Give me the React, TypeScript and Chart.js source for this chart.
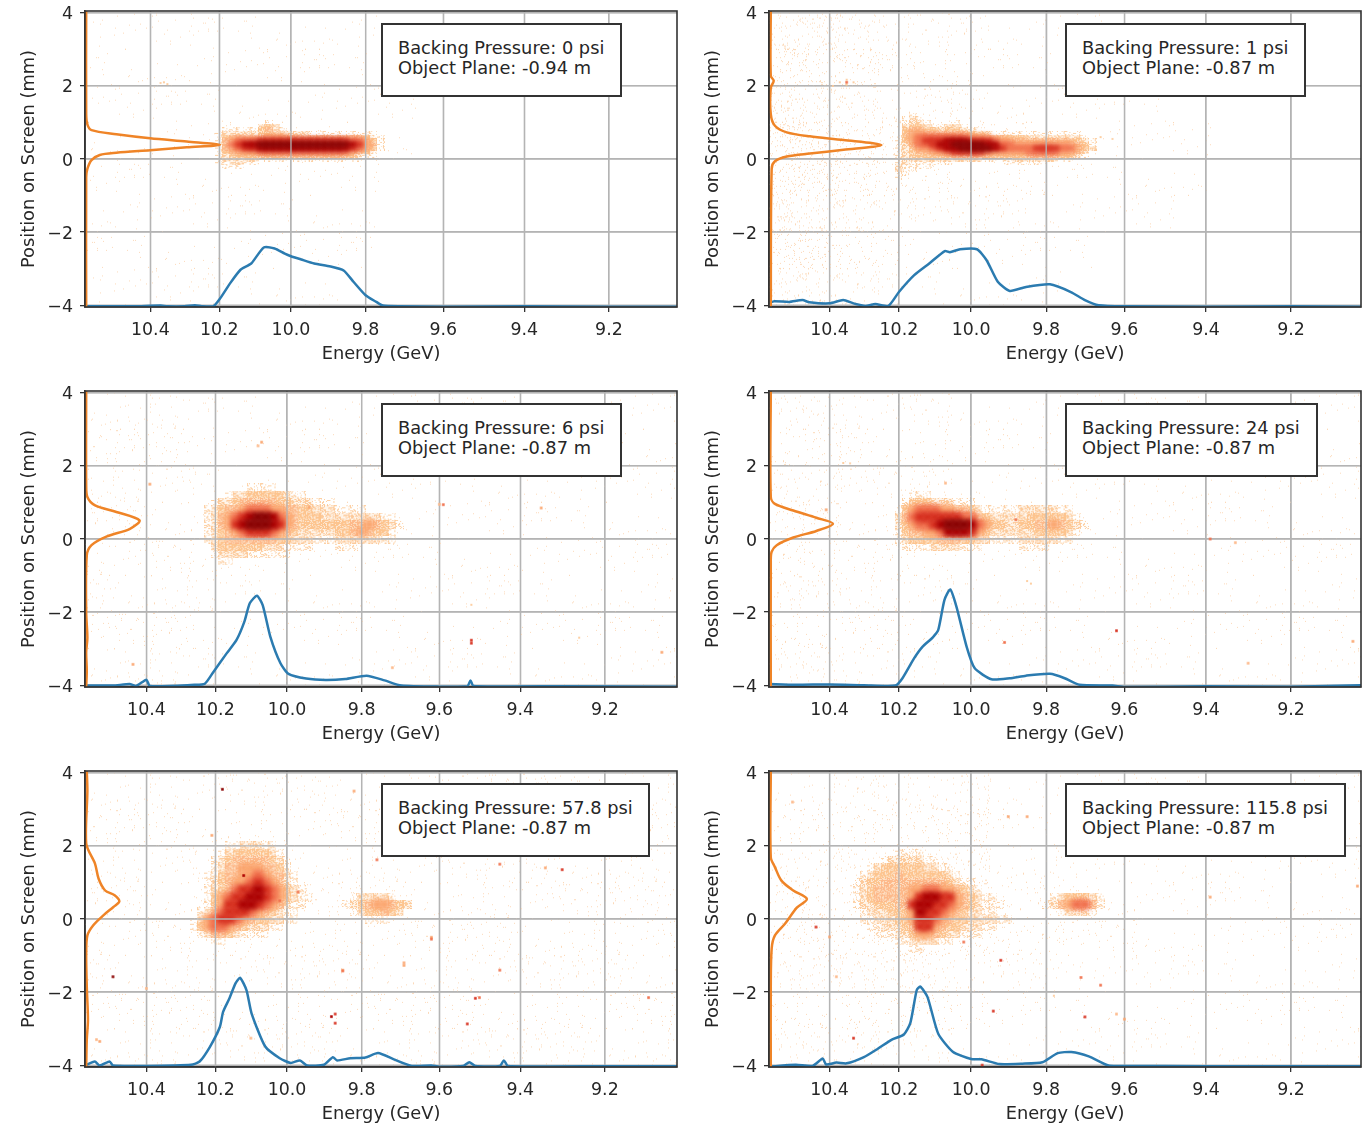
import React, { useEffect, useRef } from "react";
import { Chart, registerables, LinearScale } from "chart.js";

Chart.register(...registerables);

class InverseEnergyScale extends LinearScale {
  static id = "inverseEnergy";
  static defaults = LinearScale.defaults;
  getPixelForValue(v: number) {
    const a = 1 / this.max;
    const b = 1 / this.min;
    return this.left + (this.width * (1 / v - a)) / (b - a);
  }
  getValueForPixel(p: number) {
    const a = 1 / this.max;
    const b = 1 / this.min;
    return 1 / (a + ((p - this.left) / this.width) * (b - a));
  }
}
Chart.register(InverseEnergyScale as any);

const LEVEL_COLORS = ["", "#fdd0a4", "#fdca9a", "#fdc48e", "#fdb98a", "#fba66f", "#f1704c", "#d7301f", "#ad0000", "#8a0000"];
const LEVEL_DENSITY = [0, 0.2, 0.42, 0.68, 0.6];
const LEVEL_WASH = ["", "", "#fff5ea", "#fee9d4", "#fedfc2"];
const NOISE_COLOR = "#fcd9b8";
const NOISE_DENSITY_UNIT = 0.007;
const X_TICK_STEP = 0.2;
const Y_TICK_STEP = 2;

// ---------- Panel 1 ----------
const P1_LABEL = ["Backing Pressure: 0 psi", "Object Plane: -0.94 m"];
const P1_X_RANGE = [9.045, 10.597];
const P1_BLUE_E = [10.597, 10.45, 10.37, 10.35, 10.3, 10.27, 10.25, 10.217, 10.198, 10.17, 10.14, 10.11, 10.075, 10.045, 10.017, 10.0, 9.972, 9.937, 9.893, 9.858, 9.832, 9.8, 9.772, 9.755, 9.71, 9.6, 9.4, 9.2, 9.045];
const P1_BLUE_Y = [-4.03, -4.03, -4.01, -4.03, -4.03, -4.0, -4.03, -4.03, -3.82, -3.41, -3.03, -2.86, -2.42, -2.45, -2.59, -2.66, -2.75, -2.86, -2.94, -3.05, -3.36, -3.73, -3.91, -4.01, -4.03, -4.04, -4.03, -4.04, -4.04];
const P1_ORANGE_I = [0.002, 0.002, 0.004, 0.011, 0.053, 0.11, 0.172, 0.228, 0.172, 0.11, 0.053, 0.025, 0.011, 0.004, 0.002, 0.002];
const P1_ORANGE_Y = [4.05, 1.23, 0.95, 0.79, 0.68, 0.57, 0.48, 0.39, 0.32, 0.24, 0.17, 0.11, -0.03, -0.27, -0.5, -4.05];
const P1_HEAT_E0 = 10.22;
const P1_HEAT_Y0 = 1.0;
const P1_HEAT_YSTEP = 0.1;
const P1_HEAT = [
  "0000000010000000000000000",
  "0000000232000000000000000",
  "0011111342100000000000000",
  "0122222332222211111111100",
  "0134444455544444444443110",
  "0145666777777777777665310",
  "0146788999999999999875410",
  "0145677888888888888765310",
  "0134555666666666666543100",
  "0123333333333333333321100",
  "0122222111111111111110000",
  "0112211000000000000000000",
  "0011100000000000000000000",
];
const P1_SPOTS = [[10.36, 2.1, 3], [10.35, 2.05, 3], [10.37, 2.08, 2]];
const P1_NOISE = ["1111111100000000", "1111111100000000", "1111111110000000", "1111111110000000", "1111111100000000", "1111111100000000", "1111111100000000", "1111111000000000"];

// ---------- Panel 2 ----------
const P2_LABEL = ["Backing Pressure: 1 psi", "Object Plane: -0.87 m"];
const P2_X_RANGE = [9.042, 10.581];
const P2_BLUE_E = [10.581, 10.565, 10.52, 10.48, 10.46, 10.4, 10.36, 10.33, 10.296, 10.267, 10.23, 10.2, 10.157, 10.115, 10.072, 10.058, 10.03, 9.984, 9.958, 9.928, 9.896, 9.853, 9.79, 9.736, 9.7, 9.665, 9.6, 9.4, 9.2, 9.042];
const P2_BLUE_Y = [-3.94, -3.89, -3.91, -3.86, -3.92, -3.95, -3.86, -3.95, -4.02, -3.97, -4.02, -3.64, -3.18, -2.86, -2.52, -2.55, -2.47, -2.47, -2.77, -3.36, -3.61, -3.5, -3.43, -3.64, -3.86, -4.0, -4.03, -4.04, -4.03, -4.04];
const P2_ORANGE_I = [0.003, 0.003, 0.008, 0.003, 0.003, 0.01, 0.03, 0.069, 0.126, 0.19, 0.126, 0.069, 0.03, 0.01, 0.0045, 0.003];
const P2_ORANGE_Y = [4.05, 2.27, 2.14, 1.95, 1.23, 0.91, 0.73, 0.62, 0.52, 0.38, 0.25, 0.15, 0.07, -0.06, -0.27, -4.05];
const P2_HEAT_E0 = 10.22;
const P2_HEAT_Y0 = 1.2;
const P2_HEAT_YSTEP = 0.1;
const P2_HEAT = [
  "00010000000000000000000000000",
  "00121000000000000000000000000",
  "00122100010000000000000000000",
  "00233211221000000000000000000",
  "00344332332110000000000000000",
  "00355444444322111111111111000",
  "01356666666555443332222222100",
  "01356777888777655444444443210",
  "01246678899998866555555554310",
  "01235567889999876666777665320",
  "01234455677776555556666554200",
  "01233333344443333334444332100",
  "01222222222221111222222110000",
  "01211111100000001111100000000",
  "02111100000000000000000000000",
  "02110000000000000000000000000",
  "01100000000000000000000000000",
  "01000000000000000000000000000",
];
const P2_SPOTS = [[10.35, 2.1, 6], [10.37, 2.1, 3], [10.33, 2.1, 3], [10.35, 2.17, 3], [10.35, 2.03, 3], [10.39, 2.0, 2], [9.66, 0.6, 3], [9.63, 0.55, 2]];
const P2_NOISE = ["8753221110000000", "9753221111000000", "9853322111100000", "9865432111110000", "9854322211110000", "9853222111100000", "9742211110000000", "8531111100000000"];

// ---------- Panel 3 ----------
const P3_LABEL = ["Backing Pressure: 6 psi", "Object Plane: -0.87 m"];
const P3_X_RANGE = [9.036, 10.585];
const P3_BLUE_E = [10.585, 10.5, 10.45, 10.43, 10.4, 10.39, 10.26, 10.23, 10.205, 10.168, 10.14, 10.118, 10.103, 10.083, 10.067, 10.046, 10.018, 9.996, 9.948, 9.895, 9.843, 9.787, 9.74, 9.697, 9.6, 9.53, 9.522, 9.515, 9.3, 9.036];
const P3_BLUE_Y = [-4.01, -4.01, -3.97, -4.02, -3.85, -4.02, -3.99, -3.96, -3.63, -3.13, -2.76, -2.26, -1.76, -1.55, -1.81, -2.67, -3.4, -3.69, -3.82, -3.86, -3.83, -3.74, -3.87, -4.01, -4.04, -4.03, -3.87, -4.02, -4.03, -4.04];
const P3_ORANGE_I = [0.002, 0.002, 0.004, 0.017, 0.053, 0.092, 0.076, 0.037, 0.011, 0.003, 0.002, 0.004, 0.002, 0.003, 0.002];
const P3_ORANGE_Y = [4.05, 1.5, 1.15, 0.92, 0.74, 0.51, 0.28, 0.07, -0.17, -0.45, -2.0, -2.7, -3.1, -3.6, -4.05];
const P3_HEAT_E0 = 10.26;
const P3_HEAT_Y0 = 1.4;
const P3_HEAT_YSTEP = 0.2;
const P3_HEAT = [
  "0000000011110000000000000000000",
  "0000012233333211000000000000000",
  "0001223444443322211100000000000",
  "0012344566655443322211110000000",
  "0012456789986543332222222211000",
  "0012457899987543333333445432100",
  "0012345677765432222233454331000",
  "0012344444443322211122222211000",
  "0002333333222111100011100000000",
  "0001222211111100000000000000000",
  "0000110000000000000000000000000",
];
const P3_SPOTS = [[10.07, 2.65, 5], [10.08, 2.55, 4], [9.52, -2.77, 7], [9.52, -2.85, 7], [9.35, 0.85, 5], [9.6, 0.95, 4], [9.07, -3.1, 5], [9.26, -2.7, 3], [9.52, -1.8, 3], [10.39, 1.5, 5], [10.44, -3.43, 5], [9.94, 0.87, 5], [9.72, -3.52, 4], [9.59, 0.94, 6]];
const P3_NOISE = ["2221111111111111", "2221111111111111", "2221111111111111", "2221111111111111", "2221111111111111", "2222111111111111", "2221111111111111", "2221111111111111"];

// ---------- Panel 4 ----------
const P4_LABEL = ["Backing Pressure: 24 psi", "Object Plane: -0.87 m"];
const P4_X_RANGE = [9.042, 10.581];
const P4_BLUE_E = [10.581, 10.5, 10.4, 10.3, 10.21, 10.19, 10.157, 10.134, 10.105, 10.09, 10.073, 10.057, 10.04, 10.012, 9.99, 9.945, 9.896, 9.853, 9.79, 9.752, 9.714, 9.63, 9.6, 9.4, 9.2, 9.042];
const P4_BLUE_Y = [-3.97, -3.99, -3.98, -4.0, -4.01, -3.81, -3.26, -2.95, -2.69, -2.49, -1.67, -1.38, -1.85, -2.95, -3.54, -3.84, -3.81, -3.74, -3.69, -3.81, -3.99, -4.01, -4.05, -4.03, -4.04, -4.0];
const P4_ORANGE_I = [0.003, 0.003, 0.01, 0.041, 0.08, 0.108, 0.08, 0.041, 0.013, 0.0045, 0.003, 0.003];
const P4_ORANGE_Y = [4.05, 1.15, 0.96, 0.78, 0.58, 0.42, 0.22, 0.04, -0.17, -0.35, -0.58, -4.05];
const P4_HEAT_E0 = 10.22;
const P4_HEAT_Y0 = 1.2;
const P4_HEAT_YSTEP = 0.2;
const P4_HEAT = [
  "0001110000000000000000000000",
  "0013332221110000000000000000",
  "0135666554432111112222211000",
  "0246777777664322222333332100",
  "0235667899986533223344543210",
  "0134455688875322222233332100",
  "0123333444332211112222211000",
  "0011112222111000001111000000",
];
const P4_SPOTS = [[10.41, 0.8, 5], [10.07, 1.53, 4], [9.88, 0.53, 6], [9.84, -1.22, 3], [9.91, -2.83, 6], [9.62, -2.51, 7], [10.36, 2.08, 3], [10.34, 2.07, 2], [9.06, -2.8, 5], [9.39, 0, 6], [9.33, -0.1, 4], [9.3, -3.4, 4], [9.85, -1.15, 3]];
const P4_NOISE = ["3322211111111111", "3322211111111111", "3322211111111111", "3322211111111111", "3322111111111111", "3322211111111111", "3322211111111111", "3322111111111111"];

// ---------- Panel 5 ----------
const P5_LABEL = ["Backing Pressure: 57.8 psi", "Object Plane: -0.87 m"];
const P5_X_RANGE = [9.036, 10.585];
const P5_BLUE_E = [10.585, 10.555, 10.54, 10.51, 10.5, 10.4, 10.27, 10.245, 10.215, 10.187, 10.178, 10.16, 10.143, 10.13, 10.112, 10.098, 10.06, 10.02, 9.99, 9.965, 9.945, 9.9, 9.876, 9.865, 9.83, 9.79, 9.757, 9.716, 9.67, 9.62, 9.6, 9.54, 9.525, 9.51, 9.45, 9.44, 9.43, 9.2, 9.036];
const P5_BLUE_Y = [-4.01, -3.9, -4.01, -3.9, -4.01, -4.02, -3.99, -3.9, -3.49, -2.95, -2.54, -2.17, -1.76, -1.61, -1.95, -2.58, -3.49, -3.81, -3.94, -3.87, -4.01, -3.99, -3.78, -3.87, -3.81, -3.79, -3.67, -3.84, -4.02, -4.01, -4.04, -4.02, -3.92, -4.02, -4.02, -3.87, -4.02, -4.03, -4.03];
const P5_ORANGE_I = [0.003, 0.004, 0.002, 0.017, 0.023, 0.034, 0.05, 0.058, 0.048, 0.031, 0.014, 0.004, 0.002, 0.003, 0.005, 0.003, 0.002];
const P5_ORANGE_Y = [4.05, 3.5, 2.07, 1.51, 1.1, 0.78, 0.65, 0.48, 0.33, 0.1, -0.17, -0.45, -0.95, -1.85, -2.76, -3.3, -4.05];
const P5_HEAT_E0 = 10.28;
const P5_HEAT_Y0 = 2.0;
const P5_HEAT_YSTEP = 0.2;
const P5_HEAT = [
  "00000011222110000000000000000000",
  "00000123333321000000000000000000",
  "00001234444432100000000000000000",
  "00001244555443100000000000000000",
  "00011344556544210000000000000000",
  "00012345567654210000000000000000",
  "00012346778765321000000000000000",
  "00013567788765321100000122221000",
  "00013577887654211000001234554320",
  "00124677765432110000000123343200",
  "00256776543322110000000001110000",
  "01356654322211000000000000000000",
  "00124432111100000000000000000000",
  "00001100000000000000000000000000",
];
const P5_SPOTS = [[10.5, -1.58, 9], [9.87, -2.6, 7], [9.3, 1.35, 7], [9.45, 1.5, 6], [9.45, -1.4, 6], [9.62, -0.5, 5], [9.69, -1.2, 5], [9.82, 3.5, 5], [10.18, 3.55, 9], [9.1, -2.15, 6], [9.5, -2.15, 6], [9.85, -1.4, 5], [10.54, -3.35, 5], [9.34, 1.4, 5], [9.97, 0.74, 6], [10.02, 0.5, 6], [9.62, -0.55, 6], [9.69, -1.27, 5], [9.85, -1.42, 6], [9.88, -2.67, 8], [9.87, -2.85, 7], [9.53, -2.87, 7], [10.1, -3.26, 4], [10.55, -3.3, 4], [9.51, -2.17, 7], [10.12, 1.19, 8], [9.76, 1.62, 6], [10.21, 2.29, 5], [10.4, -1.9, 4]];
const P5_NOISE = ["2222222222222222", "2222222222222222", "2223222222222222", "2223222222222222", "2222222222222222", "2222222222222222", "2222222222222222", "2222222222222222"];

// ---------- Panel 6 ----------
const P6_LABEL = ["Backing Pressure: 115.8 psi", "Object Plane: -0.87 m"];
const P6_X_RANGE = [9.042, 10.581];
const P6_BLUE_E = [10.581, 10.5, 10.45, 10.42, 10.41, 10.38, 10.35, 10.3, 10.26, 10.22, 10.186, 10.168, 10.15, 10.14, 10.12, 10.09, 10.05, 10.0, 9.972, 9.924, 9.863, 9.81, 9.77, 9.735, 9.69, 9.64, 9.6, 9.4, 9.2, 9.042];
const P6_BLUE_Y = [-4.04, -3.99, -4.02, -3.82, -3.98, -3.93, -3.95, -3.78, -3.55, -3.3, -3.16, -2.85, -1.95, -1.85, -2.13, -3.14, -3.63, -3.83, -3.84, -3.97, -3.96, -3.92, -3.67, -3.64, -3.76, -4.01, -4.02, -4.03, -4.03, -4.03];
const P6_ORANGE_I = [0.003, 0.003, 0.01, 0.021, 0.041, 0.064, 0.047, 0.027, 0.01, 0.0045, 0.003, 0.003];
const P6_ORANGE_Y = [4.05, 1.69, 1.42, 1.05, 0.78, 0.55, 0.31, -0.13, -0.45, -0.81, -1.85, -4.05];
const P6_HEAT_E0 = 10.34;
const P6_HEAT_Y0 = 1.8;
const P6_HEAT_YSTEP = 0.2;
const P6_HEAT = [
  "000000011110000000000000000000000000",
  "000001222221100000000000000000000000",
  "000123333332211000000000000000000000",
  "001233343333332100000000000000000000",
  "012334444444443211000000000000000000",
  "012344444556655432100000000000000000",
  "012344444578877543211000000012333210",
  "012233344788776543211100000124566410",
  "001222333587765432211000000001222100",
  "001122233577654332222110000000000000",
  "000112223477543322211000000000000000",
  "000011122355432211100000000000000000",
  "000000011222211000000000000000000000",
  "000000000110000000000000000000000000",
];
const P6_SPOTS = [[10.44, -0.22, 7], [10.4, -0.49, 5], [10.02, -0.63, 6], [9.92, -1.13, 7], [9.71, -1.6, 6], [9.66, -1.81, 6], [9.94, -2.52, 7], [9.7, -2.68, 7], [9.6, -2.74, 5], [9.62, -2.6, 4], [10.33, -3.26, 7], [10.38, -1.58, 4], [9.97, -4.0, 7], [9.78, -2.1, 3], [9.9, 2.8, 5], [9.85, 2.8, 5], [10.51, 3.2, 4], [9.05, 0.9, 5], [9.39, 0.6, 5]];
const P6_NOISE = ["2233331111111111", "2233441111111111", "3344552211111111", "3445553222111111", "3445553322111111", "3444432211111111", "3343321111111111", "3332211111111111"];

const PANELS = [
  { col: 0, row: 0, label: P1_LABEL, boxW: 241, range: P1_X_RANGE, blueE: P1_BLUE_E, blueY: P1_BLUE_Y, orangeI: P1_ORANGE_I, orangeY: P1_ORANGE_Y, heat: P1_HEAT, e0: P1_HEAT_E0, y0: P1_HEAT_Y0, yStep: P1_HEAT_YSTEP, spots: P1_SPOTS, noise: P1_NOISE },
  { col: 1, row: 0, label: P2_LABEL, boxW: 241, range: P2_X_RANGE, blueE: P2_BLUE_E, blueY: P2_BLUE_Y, orangeI: P2_ORANGE_I, orangeY: P2_ORANGE_Y, heat: P2_HEAT, e0: P2_HEAT_E0, y0: P2_HEAT_Y0, yStep: P2_HEAT_YSTEP, spots: P2_SPOTS, noise: P2_NOISE },
  { col: 0, row: 1, label: P3_LABEL, boxW: 241, range: P3_X_RANGE, blueE: P3_BLUE_E, blueY: P3_BLUE_Y, orangeI: P3_ORANGE_I, orangeY: P3_ORANGE_Y, heat: P3_HEAT, e0: P3_HEAT_E0, y0: P3_HEAT_Y0, yStep: P3_HEAT_YSTEP, spots: P3_SPOTS, noise: P3_NOISE },
  { col: 1, row: 1, label: P4_LABEL, boxW: 253, range: P4_X_RANGE, blueE: P4_BLUE_E, blueY: P4_BLUE_Y, orangeI: P4_ORANGE_I, orangeY: P4_ORANGE_Y, heat: P4_HEAT, e0: P4_HEAT_E0, y0: P4_HEAT_Y0, yStep: P4_HEAT_YSTEP, spots: P4_SPOTS, noise: P4_NOISE },
  { col: 0, row: 2, label: P5_LABEL, boxW: 269, range: P5_X_RANGE, blueE: P5_BLUE_E, blueY: P5_BLUE_Y, orangeI: P5_ORANGE_I, orangeY: P5_ORANGE_Y, heat: P5_HEAT, e0: P5_HEAT_E0, y0: P5_HEAT_Y0, yStep: P5_HEAT_YSTEP, spots: P5_SPOTS, noise: P5_NOISE },
  { col: 1, row: 2, label: P6_LABEL, boxW: 281, range: P6_X_RANGE, blueE: P6_BLUE_E, blueY: P6_BLUE_Y, orangeI: P6_ORANGE_I, orangeY: P6_ORANGE_Y, heat: P6_HEAT, e0: P6_HEAT_E0, y0: P6_HEAT_Y0, yStep: P6_HEAT_YSTEP, spots: P6_SPOTS, noise: P6_NOISE },
];

const FONT = "'DejaVu Sans', sans-serif";
const TEXT = "#262626";
const GRID = "#b4b4b4";
const SPINE = "#333333";
const ROW_TOPS = [0, 380, 760];
const COL_LEFTS = [0, 684];
const TICK_SIZE = 17.4;
const LABEL_SIZE = 17.8;

function makeSolidSprite(color: string, w: number, h: number, blur: number) {
  const pad = 7;
  const c = document.createElement("canvas");
  c.width = Math.ceil(w + pad * 2);
  c.height = Math.ceil(h + pad * 2);
  const g = c.getContext("2d")!;
  (g as any).filter = `blur(${blur}px)`;
  g.fillStyle = color;
  g.fillRect((c.width - w) / 2, (c.height - h) / 2, w, h);
  return c;
}

// Fixed pixel texture for the pale fringe: a style of the cell, not data.
function grain(x: number, y: number, v: number) {
  const s = Math.sin(x * 12.9898 + y * 78.233 + v * 37.719) * 43758.5453;
  return s - Math.floor(s);
}

function makeStippleSprite(color: string, wash: string, w: number, h: number, density: number, variant: number) {
  const c = document.createElement("canvas");
  c.width = Math.ceil(w);
  c.height = Math.ceil(h);
  const g = c.getContext("2d")!;
  if (wash) {
    g.fillStyle = wash;
    g.fillRect(0, 0, c.width, c.height);
  }
  g.fillStyle = color;
  for (let y = 0; y < c.height; y++) {
    for (let x = 0; x < c.width; x++) {
      if (grain(x, y, variant) < density) g.fillRect(x, y, 1, 1);
    }
  }
  return c;
}

const frameAndGrid = {
  id: "frameAndGrid",
  afterDatasetDraw(chart: any, args: any) {
    if (args.index !== 0) return;
    const { ctx, chartArea: a, scales } = chart;
    ctx.save();
    ctx.strokeStyle = GRID;
    ctx.lineWidth = 1.3;
    ctx.beginPath();
    scales.x.ticks.forEach((t: any) => {
      const p = scales.x.getPixelForValue(t.value);
      ctx.moveTo(p, a.top);
      ctx.lineTo(p, a.bottom);
    });
    scales.y.ticks.forEach((t: any) => {
      const p = scales.y.getPixelForValue(t.value);
      ctx.moveTo(a.left, p);
      ctx.lineTo(a.right, p);
    });
    ctx.stroke();
    ctx.restore();
  },
  afterDraw(chart: any) {
    const { ctx, chartArea: a } = chart;
    ctx.save();
    ctx.strokeStyle = SPINE;
    ctx.lineWidth = 1.6;
    ctx.strokeRect(a.left, a.top, a.right - a.left, a.bottom - a.top);
    ctx.restore();
  },
};

function Panel({ p }: { p: (typeof PANELS)[number] }) {
  const ref = useRef<HTMLCanvasElement | null>(null);
  useEffect(() => {
    const cellH = p.yStep * 36.5;
    const solid = LEVEL_COLORS.map((c) => (c ? makeSolidSprite(c, 11, cellH + 2.4, 2) : null));
    const stipple = [0, 1, 2, 3].map((v) =>
      LEVEL_COLORS.map((c, l) => (c && l <= 4 ? makeStippleSprite(c, LEVEL_WASH[l], 8, cellH + 1, LEVEL_DENSITY[l], v) : null)),
    );
    const spotSprites = LEVEL_COLORS.map((c, l) => (c ? makeSolidSprite(c, l <= 3 ? 1.8 : 2.6, l <= 3 ? 1.8 : 2.6, 0.4) : null));
    const noiseSprites: Record<string, HTMLCanvasElement> = {};
    const noiseSprite = (d: number, v: number) => {
      const k = `${d}-${v}`;
      if (!noiseSprites[k]) noiseSprites[k] = makeStippleSprite(NOISE_COLOR, "", 37, 37, d * NOISE_DENSITY_UNIT, 10 + d + v);
      return noiseSprites[k];
    };
    const cells: { x: number; y: number; l: number; v: number }[] = [];
    p.heat.forEach((row, r) => {
      for (let i = 0; i < row.length; i++) {
        const l = Number(row[i]);
        if (l > 0) cells.push({ x: p.e0 - i * 0.02, y: p.y0 - r * p.yStep, l, v: (i + 2 * r) % 4 });
      }
    });
    cells.sort((a, b) => a.l - b.l);
    const noiseCells: { x: number; y: number; d: number; v: number }[] = [];
    p.noise.forEach((row, r) => {
      for (let i = 0; i < row.length; i++) {
        const d = Number(row[i]);
        if (d > 0) noiseCells.push({ x: (i + 0.5) / row.length, y: 3.5 - r, d, v: (i * 3 + r * 5) % 7 });
      }
    });
    const chart = new Chart(ref.current!, {
      type: "scatter",
      plugins: [frameAndGrid],
      data: {
        datasets: [
          {
            data: cells,
            order: 10,
            pointRadius: 1,
            pointBorderWidth: 0,
            pointStyle: (c: any) => (c.raw.l <= 4 ? stipple[c.raw.v][c.raw.l] : solid[c.raw.l]),
          } as any,
          {
            data: p.spots.map((s) => ({ x: s[0], y: s[1], l: s[2] })),
            order: 9,
            pointRadius: 1,
            pointBorderWidth: 0,
            pointStyle: (c: any) => spotSprites[c.raw.l],
          } as any,
          {
            data: p.blueE.map((e, i) => ({ x: e, y: p.blueY[i] })),
            order: 2,
            showLine: true,
            tension: 0.2,
            borderColor: "#2b7bb0",
            borderWidth: 2.5,
            pointRadius: 0,
          },
          {
            data: p.orangeI.map((v, i) => ({ x: v, y: p.orangeY[i] })),
            xAxisID: "profile",
            order: 1,
            showLine: true,
            tension: 0.3,
            borderColor: "#ef8427",
            borderWidth: 2.5,
            pointRadius: 0,
          },
          {
            data: noiseCells,
            xAxisID: "profile",
            order: 11,
            pointRadius: 1,
            pointBorderWidth: 0,
            pointStyle: (c: any) => noiseSprite(c.raw.d, c.raw.v),
          } as any,
        ],
      },
      options: {
        animation: false,
        responsive: false,
        events: [],
        layout: { padding: { top: 11, right: 8, left: 0, bottom: 0 } },
        plugins: { legend: { display: false }, tooltip: { enabled: false } },
        scales: {
          x: {
            type: "inverseEnergy",
            position: "bottom",
            min: p.range[0],
            max: p.range[1],
            afterFit: (s: any) => {
              s.height = 68;
              s.paddingLeft = 0;
              s.paddingRight = 0;
            },
            grid: { color: GRID, lineWidth: 1.3, tickLength: 5, tickColor: SPINE },
            border: { color: SPINE, width: 1.6 },
            ticks: {
              stepSize: X_TICK_STEP,
              includeBounds: false,
              autoSkip: false,
              maxRotation: 0,
              padding: 8,
              color: TEXT,
              font: { family: FONT, size: TICK_SIZE },
              callback: (v: any) => Number(v).toFixed(1),
            },
            title: {
              display: true,
              text: "Energy (GeV)",
              color: TEXT,
              font: { family: FONT, size: LABEL_SIZE },
              padding: { top: 0, bottom: 9.5 },
            },
          },
          profile: { type: "linear", position: "top", display: false, min: 0, max: 1 },
          y: {
            type: "linear",
            position: "left",
            min: -4.05,
            max: 4.05,
            afterFit: (s: any) => {
              s.width = 85;
              s.paddingTop = 0;
              s.paddingBottom = 0;
            },
            grid: { color: GRID, lineWidth: 1.3, tickLength: 5, tickColor: SPINE },
            border: { color: SPINE, width: 1.6 },
            ticks: {
              stepSize: Y_TICK_STEP,
              includeBounds: false,
              padding: 7,
              labelOffset: 2,
              color: TEXT,
              font: { family: FONT, size: TICK_SIZE },
              callback: (v: any) => String(v).replace("-", "\u2212"),
            },
            title: {
              display: true,
              text: "Position on Screen (mm)",
              color: TEXT,
              font: { family: FONT, size: LABEL_SIZE },
              padding: { top: 19, bottom: 0 },
            },
          },
        },
      } as any,
    });
    return () => chart.destroy();
  }, [p]);
  const left = COL_LEFTS[p.col];
  const top = ROW_TOPS[p.row];
  return (
    <>
      <canvas ref={ref} width={685} height={375} style={{ position: "absolute", left, top, width: 685, height: 375 }} />
      <div
        style={{
          position: "absolute",
          left: left + 381,
          top: top + 23,
          width: p.boxW,
          height: 74,
          boxSizing: "border-box",
          border: `2px solid ${SPINE}`,
          background: "#fff",
          padding: "13px 0 0 15px",
          font: `${LABEL_SIZE}px/20px ${FONT}`,
          color: TEXT,
          whiteSpace: "pre",
        }}
      >
        {p.label.map((t) => (
          <div key={t}>{t}</div>
        ))}
      </div>
    </>
  );
}

export default function App() {
  return (
    <div style={{ position: "fixed", left: 0, top: 0, width: 1370, height: 1124, overflow: "hidden", background: "#fff", filter: "blur(0.45px)" }}>
      {PANELS.map((p, i) => (
        <Panel key={i} p={p} />
      ))}
    </div>
  );
}
